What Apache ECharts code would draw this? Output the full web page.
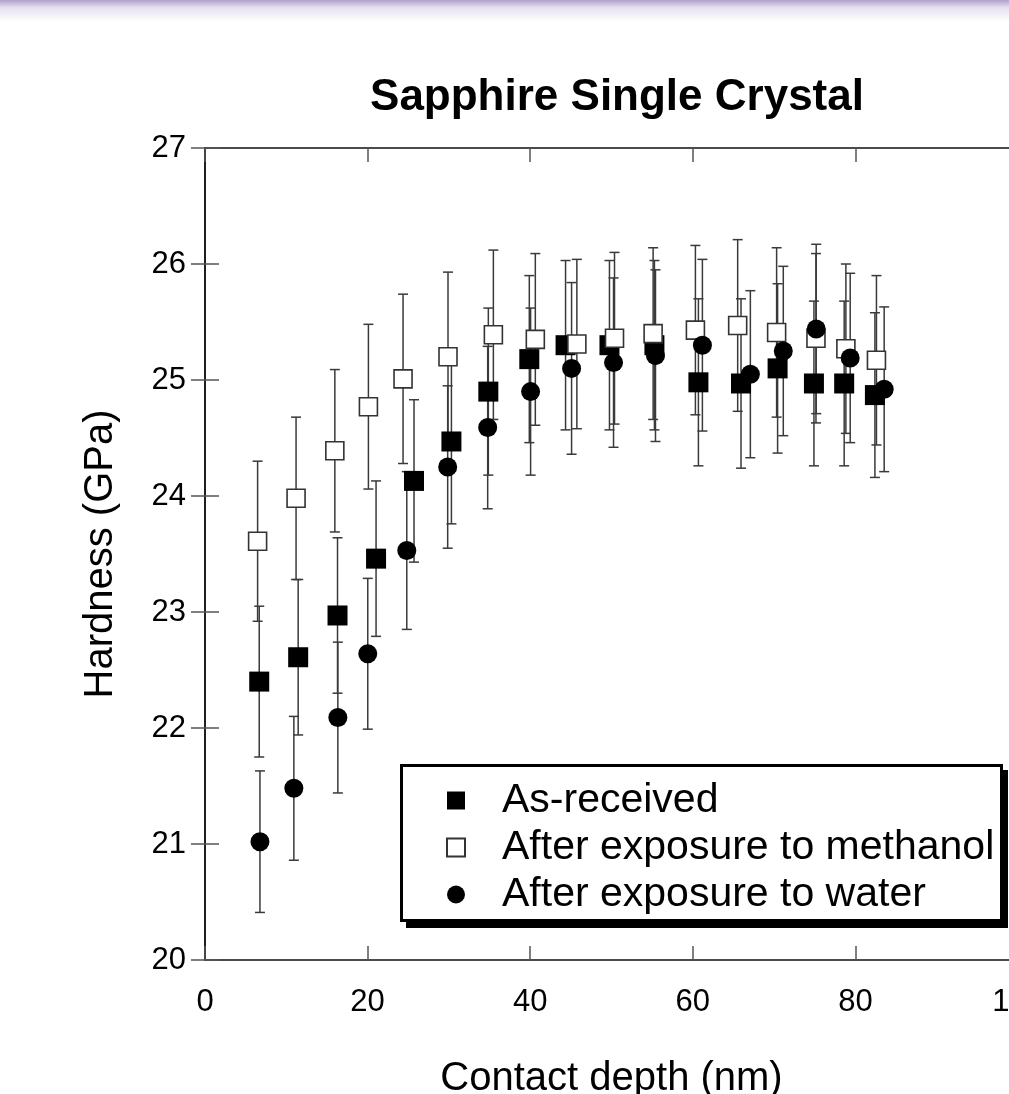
<!DOCTYPE html>
<html>
<head>
<meta charset="utf-8">
<script src="https://cdn.jsdelivr.net/npm/echarts@6/dist/echarts.min.js"></script>
<style>
  html, body { margin:0; padding:0; overflow:hidden; background:#fff; width:1009px; height:1094px; }
  #band { position:absolute; left:0; top:0; width:1009px; height:22px; z-index:5;
          background:linear-gradient(to bottom, rgba(170,155,200,0.95) 0%, rgba(215,205,228,0.6) 35%, rgba(255,255,255,0) 100%); }
  #chart { position:absolute; left:0; top:0; width:1100px; height:1094px; }
</style>
</head>
<body>
<div id="band"></div>
<div id="chart"></div>
<script>
// ---- data ----
const xTicks = [0, 20, 40, 60, 80, 100];
const yTicks = [20, 21, 22, 23, 24, 25, 26, 27];

const xAsReceived = [6.67, 11.46, 16.30, 21.04, 25.71, 30.31, 34.85, 39.89, 44.35, 49.75, 55.28, 60.69, 65.93, 70.43, 74.90, 78.62, 82.40];
const yAsReceived = [22.40, 22.61, 22.97, 23.46, 24.13, 24.47, 24.90, 25.18, 25.30, 25.30, 25.30, 24.98, 24.97, 25.10, 24.97, 24.97, 24.87];
const eAsReceived = [0.65, 0.67, 0.67, 0.67, 0.70, 0.71, 0.72, 0.72, 0.73, 0.73, 0.73, 0.72, 0.73, 0.73, 0.71, 0.71, 0.71];

const xMethanol = [6.47, 11.20, 15.97, 20.10, 24.36, 29.89, 35.47, 40.63, 45.74, 50.37, 55.12, 60.32, 65.52, 70.31, 75.15, 78.83, 82.59];
const yMethanol = [23.61, 23.98, 24.39, 24.77, 25.01, 25.20, 25.39, 25.35, 25.31, 25.36, 25.40, 25.43, 25.47, 25.41, 25.36, 25.27, 25.17];
const eMethanol = [0.69, 0.70, 0.70, 0.71, 0.73, 0.73, 0.73, 0.74, 0.73, 0.74, 0.74, 0.73, 0.74, 0.73, 0.73, 0.73, 0.73];

const xWater = [6.76, 10.93, 16.34, 20.02, 24.82, 29.85, 34.77, 40.05, 45.09, 50.25, 55.41, 61.18, 67.08, 71.13, 75.18, 79.36, 83.54];
const yWater = [21.02, 21.48, 22.09, 22.64, 23.53, 24.25, 24.59, 24.90, 25.10, 25.15, 25.21, 25.30, 25.05, 25.25, 25.44, 25.19, 24.92];
const eWater = [0.61, 0.62, 0.65, 0.65, 0.68, 0.70, 0.70, 0.72, 0.74, 0.73, 0.74, 0.74, 0.72, 0.73, 0.73, 0.73, 0.71];

const seriesNames = ['As-received', 'After exposure to methanol', 'After exposure to water'];
const titleText = 'Sapphire Single Crystal';
const xName = 'Contact depth (nm)';
const yName = 'Hardness (GPa)';

// ---- build ----
const FONT = '"Liberation Sans", Arial, sans-serif';
function pts(xs, ys) { return xs.map((x, i) => [x, ys[i]]); }
function errs(xs, ys, es) { return xs.map((x, i) => [x, ys[i] - es[i], ys[i] + es[i]]); }

function errRender(params, api) {
  const x = api.value(0), lo = api.value(1), hi = api.value(2);
  const pTop = api.coord([x, hi]);
  const pBot = api.coord([x, lo]);
  const w = 5;
  const st = { stroke: '#3a3a3a', lineWidth: 1.5 };
  return {
    type: 'group',
    children: [
      { type: 'line', shape: { x1: pTop[0], y1: pTop[1], x2: pBot[0], y2: pBot[1] }, style: st },
      { type: 'line', shape: { x1: pTop[0] - w, y1: pTop[1], x2: pTop[0] + w, y2: pTop[1] }, style: st },
      { type: 'line', shape: { x1: pBot[0] - w, y1: pBot[1], x2: pBot[0] + w, y2: pBot[1] }, style: st }
    ]
  };
}

function errSeries(data) {
  return { type: 'custom', name: '_err', renderItem: errRender, data: data,
           encode: { x: 0, y: [1, 2] }, z: 1, silent: true, clip: false };
}

const tickStyle = { color: '#555', width: 1.5 };
const lineStyle = { color: '#111', width: 1.5 };

const chart = echarts.init(document.getElementById('chart'), null, { renderer: 'canvas' });
chart.setOption({
  animation: false,
  backgroundColor: 'transparent',
  textStyle: { fontFamily: FONT },
  title: {
    text: titleText, left: 612, top: 71, textAlign: 'center',
    textStyle: { fontFamily: FONT, fontSize: 44, fontWeight: 'bold', color: '#000' }
  },
  grid: { left: 205, top: 148, width: 813, height: 812, outerBoundsMode: 'none', containLabel: false },
  xAxis: [
    { type: 'value', position: 'bottom', min: xTicks[0], max: xTicks[xTicks.length - 1], interval: 20,
      axisLine: { show: true, lineStyle: lineStyle },
      axisTick: { show: true, inside: true, length: 14, lineStyle: tickStyle },
      axisLabel: { show: true, fontSize: 31, color: '#000', margin: 27, fontFamily: FONT },
      splitLine: { show: false },
      name: xName, nameLocation: 'middle', nameGap: 99,
      nameTextStyle: { fontSize: 40, color: '#000', fontFamily: FONT } },
    { type: 'value', position: 'top', min: xTicks[0], max: xTicks[xTicks.length - 1], interval: 20,
      axisLine: { show: true, lineStyle: lineStyle },
      axisTick: { show: true, inside: true, length: 14, lineStyle: tickStyle },
      axisLabel: { show: false }, splitLine: { show: false } }
  ],
  yAxis: [
    { type: 'value', position: 'left', min: yTicks[0], max: yTicks[yTicks.length - 1], interval: 1,
      axisLine: { show: true, lineStyle: lineStyle },
      axisTick: { show: true, inside: true, length: 14, lineStyle: tickStyle },
      axisLabel: { show: true, fontSize: 31, color: '#000', margin: 19, fontFamily: FONT },
      splitLine: { show: false },
      name: yName, nameLocation: 'middle', nameGap: 84, nameRotate: 90,
      nameTextStyle: { fontSize: 40, color: '#000', fontFamily: FONT } },
    { type: 'value', position: 'right', min: yTicks[0], max: yTicks[yTicks.length - 1], interval: 1,
      axisLine: { show: true, lineStyle: lineStyle },
      axisTick: { show: true, inside: true, length: 14, lineStyle: tickStyle },
      axisLabel: { show: false }, splitLine: { show: false } }
  ],
  graphic: [
    { type: 'rect', shape: { x: 406, y: 770, width: 602, height: 158 }, style: { fill: '#000' }, z: 3 },
    { type: 'rect', shape: { x: 401.5, y: 765.5, width: 600, height: 155 },
      style: { fill: '#fff', stroke: '#000', lineWidth: 3 }, z: 3 }
  ],
  legend: {
    data: seriesNames, orient: 'vertical', left: 400, top: 764,
    padding: [16, 10, 10, 46], itemGap: 6, itemWidth: 18, itemHeight: 18, z: 6,
    textStyle: { fontSize: 41, color: '#000', fontFamily: FONT, lineHeight: 40, padding: [0, 0, 0, 32] }
  },
  series: [
    errSeries(errs(xAsReceived, yAsReceived, eAsReceived)),
    errSeries(errs(xMethanol, yMethanol, eMethanol)),
    errSeries(errs(xWater, yWater, eWater)),
    { type: 'scatter', name: seriesNames[0], data: pts(xAsReceived, yAsReceived), symbol: 'rect', symbolSize: 20,
      itemStyle: { color: '#000', opacity: 1 }, z: 2 },
    { type: 'scatter', name: seriesNames[1], data: pts(xMethanol, yMethanol), symbol: 'rect', symbolSize: 18,
      itemStyle: { color: '#fff', borderColor: '#333', borderWidth: 1.6, opacity: 1 }, z: 2 },
    { type: 'scatter', name: seriesNames[2], data: pts(xWater, yWater), symbol: 'circle', symbolSize: 19,
      itemStyle: { color: '#000', opacity: 1 }, z: 2 }
  ]
});
</script>
</body>
</html>
